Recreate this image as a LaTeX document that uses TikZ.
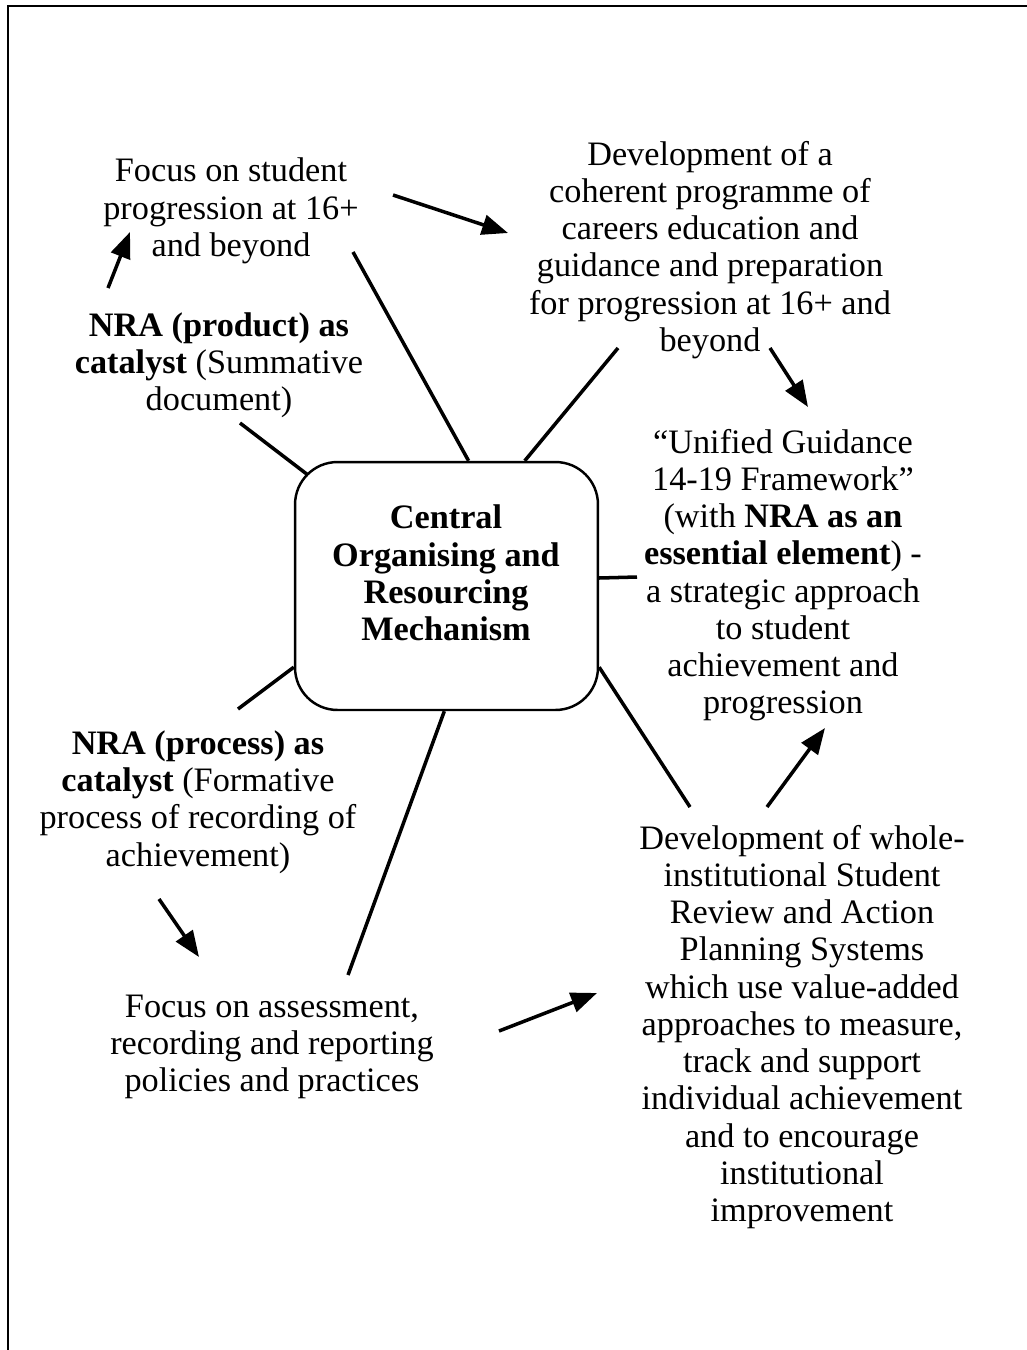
\documentclass[tikz,border=0pt]{standalone}
\usepackage{fontspec}
\setmainfont{Liberation Serif}
\usepackage{tikz}
\usetikzlibrary{arrows.meta}

\newcommand{\bodysize}{\fontsize{19.5}{21.2}\selectfont}

\tikzset{
  txt/.style={align=center, inner sep=0pt, font=\bodysize},
  hub/.style={draw, line width=1.4pt, rounded corners=0.85cm, minimum width=6.06cm, minimum height=4.96cm, inner sep=0pt},
  spoke/.style={line width=2pt},
  flow/.style={line width=2pt, -{Triangle[length=0.52cm, width=0.4cm]}}
}

\begin{document}
\begin{tikzpicture}[x=0.02cm, y=-0.02cm]
\useasboundingbox (0,0) rectangle (1027,1350);

% Frame
\draw[line width=1.2pt] (8,1350) -- (8,6) -- (1027,6);

% Centre
\node[hub] (ctr) at (446.5,586) {};
\node[txt, font=\bodysize\bfseries] (ctrlabel) at (446,573) {Central\\Organising and\\Resourcing\\Mechanism};

% Surrounding texts
\node[txt] (focus) at (231,211) {Focus on student\\progression at 16+\\and beyond};
\node[txt] (nraprod) at (219,365) {\textbf{NRA (product) as}\\\textbf{catalyst} (Summative\\document)};
\node[txt] (devprog) at (710,250) {Development of a\\coherent programme of\\careers education and\\guidance and preparation\\for progression at 16+ and\\beyond};
\node[txt] (unified) at (783,575) {“Unified Guidance\\14-19 Framework”\\(with \textbf{NRA as an}\\\textbf{essential element}) -\\a strategic approach\\to student\\achievement and\\progression};
\node[txt] (nraproc) at (198,802) {\textbf{NRA (process) as}\\\textbf{catalyst} (Formative\\process of recording of\\achievement)};
\node[txt] (assess) at (272,1047) {Focus on assessment,\\recording and reporting\\policies and practices};
\node[txt] (review) at (802,1027) {Development of whole-\\institutional Student\\Review and Action\\Planning Systems\\which use value-added\\approaches to measure,\\track and support\\individual achievement\\and to encourage\\institutional\\improvement};

% Spoke ends
\coordinate (s1) at (353,252);
\coordinate (s2) at (618,348);
\coordinate (s3) at (240,423);
\coordinate (hubnw) at (308,475);
\coordinate (s4) at (637,577);
\coordinate (s5) at (690,807);
\coordinate (s6) at (238,709);
\coordinate (s7) at (348,975);

\draw[spoke] (ctr.80.6) -- (s1);
\draw[spoke] (ctr.58.7) -- (s2);
\draw[spoke] (hubnw) -- (s3);
\draw[spoke] (ctr.3.4) -- (s4);
\draw[spoke] (ctr.-28.6) -- (s5);
\draw[spoke] (ctr.208.4) -- (s6);
\draw[spoke] (ctr.269.3) -- (s7);

% Arrows
\coordinate (a1s) at (108,288);  \coordinate (a1e) at (130,232);
\coordinate (a2s) at (393,195);  \coordinate (a2e) at (508,233);
\coordinate (a3s) at (770,348);  \coordinate (a3e) at (808,407);
\coordinate (a4s) at (767,807);  \coordinate (a4e) at (825,728);
\coordinate (a5s) at (159,899);  \coordinate (a5e) at (199,957);
\coordinate (a6s) at (499,1031); \coordinate (a6e) at (597,993);

\draw[flow] (a1s) -- (a1e);
\draw[flow] (a2s) -- (a2e);
\draw[flow] (a3s) -- (a3e);
\draw[flow] (a4s) -- (a4e);
\draw[flow] (a5s) -- (a5e);
\draw[flow] (a6s) -- (a6e);

\end{tikzpicture}
\end{document}
